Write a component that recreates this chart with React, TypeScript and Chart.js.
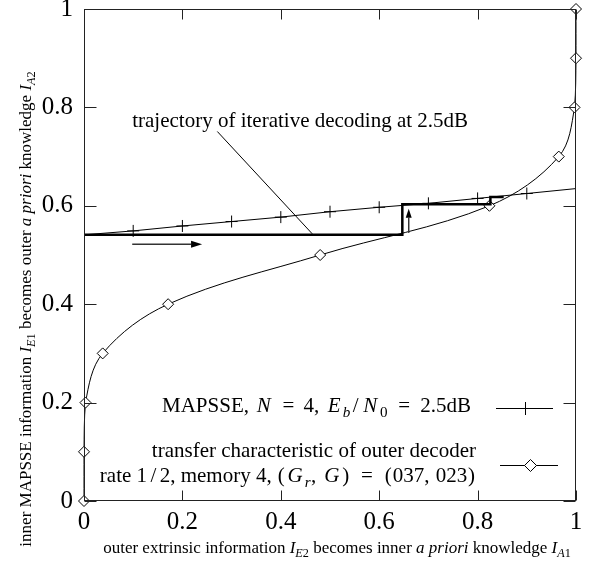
import React, { useEffect, useRef } from "react";
import { Chart, registerables } from "chart.js";

Chart.register(...registerables);

// ---------- data ----------
const TICK_VALUES = [0, 0.2, 0.4, 0.6, 0.8, 1];
const TICK_LABELS = ["0", "0.2", "0.4", "0.6", "0.8", "1"];

// MAPSSE transfer curve (inner decoder), N = 4, Eb/N0 = 2.5 dB
const MAPSSE_X = [0, 0.1, 0.2, 0.3, 0.4, 0.5, 0.6, 0.7, 0.8, 0.9, 1];
const MAPSSE_Y = [0.541, 0.549, 0.559, 0.568, 0.577, 0.588, 0.597, 0.605, 0.615, 0.625, 0.635];
const MAPSSE_MARKED = [false, true, true, true, true, true, true, true, true, true, false];

// outer decoder transfer characteristic (plotted inverted)
const OUTER_X = [0, 0, 0.003, 0.038, 0.171, 0.48, 0.824, 0.965, 0.997, 1, 1];
const OUTER_Y = [0, 0.1, 0.2, 0.3, 0.4, 0.5, 0.6, 0.7, 0.8, 0.9, 1];

// decoding trajectory at 2.5 dB
const TRAJ_X = [0, 0.647, 0.647, 0.826, 0.826, 0.853];
const TRAJ_Y = [0.541, 0.541, 0.603, 0.603, 0.618, 0.618];

// annotation pointer line
const POINTER_X = [0.271, 0.464];
const POINTER_Y = [0.751, 0.543];

// arrows
const ARROW_H_X = [0.098, 0.24];
const ARROW_H_Y = [0.522, 0.522];
const ARROW_V_X = [0.66, 0.66];
const ARROW_V_Y = [0.545, 0.594];

// annotation text anchor
const NOTE_X = 0.098;
const NOTE_Y = 0.76;
const NOTE_TEXT = "trajectory of iterative decoding at 2.5dB";

// ---------- styling ----------
const FONT = "'Liberation Serif', 'Times New Roman', serif";
const AXIS_COLOR = "#222";
const TEXT_SIZE = 21;
const TITLE_SIZE = 17;

// t: text, it: italic, sub: subscript, w: glyph box width in em (math spacing), l: left-align in box
type Seg = { t: string; it?: boolean; sub?: boolean; w?: number; l?: boolean };

const LEGEND1: Seg[] = [
  { t: "MAPSSE, " },
  { t: "N", it: true, w: 0.9 },
  { t: "=", w: 1.45 },
  { t: "4", w: 0.5 },
  { t: ",", w: 0.55, l: true },
  { t: "E", it: true, w: 0.8 },
  { t: "b", it: true, sub: true, w: 0.38 },
  { t: "/", w: 0.5 },
  { t: "N", it: true, w: 0.9 },
  { t: "0", sub: true, w: 0.38 },
  { t: "=", w: 1.55 },
  { t: "2.5dB", w: 2.65, l: true },
];
const LEGEND2A: Seg[] = [{ t: "transfer characteristic of outer decoder" }];
const LEGEND2B: Seg[] = [
  { t: "rate " },
  { t: "1", w: 0.5 },
  { t: "/", w: 0.6 },
  { t: "2", w: 0.5 },
  { t: ", memory " },
  { t: "4", w: 0.5 },
  { t: ", " },
  { t: "(", w: 0.42 },
  { t: "G", it: true, w: 0.9 },
  { t: "r", it: true, sub: true, w: 0.3 },
  { t: ",", w: 0.55, l: true },
  { t: "G", it: true, w: 0.9 },
  { t: ")", w: 0.42 },
  { t: "=", w: 1.6 },
  { t: "(", w: 0.42 },
  { t: "037", w: 1.5 },
  { t: ",", w: 0.55, l: true },
  { t: "023", w: 1.5 },
  { t: ")", w: 0.42 },
];
const X_TITLE: Seg[] = [
  { t: "outer extrinsic information " },
  { t: "I", it: true },
  { t: "E", it: true, sub: true },
  { t: "2", sub: true },
  { t: " becomes inner " },
  { t: "a priori", it: true },
  { t: " knowledge " },
  { t: "I", it: true },
  { t: "A", it: true, sub: true },
  { t: "1", sub: true },
];
const Y_TITLE: Seg[] = [
  { t: "inner MAPSSE information " },
  { t: "I", it: true },
  { t: "E", it: true, sub: true },
  { t: "1", sub: true },
  { t: " becomes outer " },
  { t: "a priori", it: true },
  { t: " knowledge " },
  { t: "I", it: true },
  { t: "A", it: true, sub: true },
  { t: "2", sub: true },
];

function segFont(s: Seg, size: number) {
  const sz = s.sub ? size * 0.72 : size;
  return `${s.it ? "italic " : ""}${sz}px ${FONT}`;
}
function segWidth(ctx: CanvasRenderingContext2D, s: Seg, size: number) {
  if (s.w !== undefined) return s.w * size;
  ctx.font = segFont(s, size);
  return ctx.measureText(s.t).width;
}
function measureRich(ctx: CanvasRenderingContext2D, segs: Seg[], size: number) {
  let w = 0;
  for (const s of segs) w += segWidth(ctx, s, size);
  return w;
}
function drawRich(
  ctx: CanvasRenderingContext2D,
  segs: Seg[],
  x: number,
  y: number,
  size: number,
  align: "left" | "right" | "center"
) {
  const w = measureRich(ctx, segs, size);
  let cx = align === "left" ? x : align === "right" ? x - w : x - w / 2;
  ctx.textBaseline = "alphabetic";
  for (const s of segs) {
    const bw = segWidth(ctx, s, size);
    ctx.font = segFont(s, size);
    const yy = y + (s.sub ? size * 0.25 : 0);
    if (s.w !== undefined && !s.l) {
      ctx.textAlign = "center";
      ctx.fillText(s.t, cx + bw / 2, yy);
    } else {
      ctx.textAlign = "left";
      ctx.fillText(s.t, cx, yy);
    }
    cx += bw;
  }
}

function drawArrow(
  ctx: CanvasRenderingContext2D,
  x0: number,
  y0: number,
  x1: number,
  y1: number,
  len: number,
  half: number
) {
  const ang = Math.atan2(y1 - y0, x1 - x0);
  const bx = x1 - Math.cos(ang) * len;
  const by = y1 - Math.sin(ang) * len;
  ctx.beginPath();
  ctx.moveTo(x0, y0);
  ctx.lineTo(bx, by);
  ctx.stroke();
  ctx.beginPath();
  ctx.moveTo(x1, y1);
  ctx.lineTo(bx - Math.sin(ang) * half, by + Math.cos(ang) * half);
  ctx.lineTo(bx + Math.sin(ang) * half, by - Math.cos(ang) * half);
  ctx.closePath();
  ctx.fill();
}

const overlay = {
  id: "overlay",
  afterDraw(chart: any) {
    const ctx: CanvasRenderingContext2D = chart.ctx;
    const xs = chart.scales.x;
    const ys = chart.scales.y;
    const a = chart.chartArea;
    ctx.save();
    ctx.strokeStyle = AXIS_COLOR;
    ctx.fillStyle = "#000";
    ctx.lineWidth = 1;
    const L = Math.round(a.left) + 0.5;
    const R = Math.round(a.right) - 0.5;
    const T = Math.round(a.top) + 0.5;
    const B = Math.round(a.bottom) - 0.5;
    ctx.strokeRect(L, T, R - L, B - T);
    // inward ticks on all four sides
    ctx.beginPath();
    for (const v of TICK_VALUES) {
      const px = Math.round(xs.getPixelForValue(v)) + 0.5;
      ctx.moveTo(px, B);
      ctx.lineTo(px, B - 10);
      ctx.moveTo(px, T);
      ctx.lineTo(px, T + 10);
      const py = Math.round(ys.getPixelForValue(v)) + 0.5;
      ctx.moveTo(L, py);
      ctx.lineTo(L + 12, py);
      ctx.moveTo(R, py);
      ctx.lineTo(R - 12, py);
    }
    ctx.stroke();

    // arrows
    ctx.strokeStyle = "#333";
    ctx.lineWidth = 1.5;
    drawArrow(
      ctx,
      xs.getPixelForValue(ARROW_H_X[0]),
      ys.getPixelForValue(ARROW_H_Y[0]),
      xs.getPixelForValue(ARROW_H_X[1]),
      ys.getPixelForValue(ARROW_H_Y[1]),
      11,
      3.5
    );
    drawArrow(
      ctx,
      xs.getPixelForValue(ARROW_V_X[0]),
      ys.getPixelForValue(ARROW_V_Y[0]),
      xs.getPixelForValue(ARROW_V_X[1]),
      ys.getPixelForValue(ARROW_V_Y[1]),
      9,
      3
    );

    // annotation text
    ctx.fillStyle = "#000";
    drawRich(
      ctx,
      [{ t: NOTE_TEXT }],
      xs.getPixelForValue(NOTE_X),
      ys.getPixelForValue(NOTE_Y),
      TEXT_SIZE,
      "left"
    );

    // legend
    drawRich(ctx, LEGEND1, 476, 412, TEXT_SIZE, "right");
    drawRich(ctx, LEGEND2A, 476, 457, TEXT_SIZE, "right");
    drawRich(ctx, LEGEND2B, 476, 482, TEXT_SIZE, "right");
    ctx.strokeStyle = "#000";
    ctx.lineWidth = 1;
    ctx.beginPath();
    ctx.moveTo(496, 408.5);
    ctx.lineTo(553, 408.5);
    ctx.moveTo(525.5, 402);
    ctx.lineTo(525.5, 415);
    ctx.moveTo(500, 465.5);
    ctx.lineTo(558, 465.5);
    ctx.stroke();
    ctx.beginPath();
    ctx.moveTo(524.5, 465.5);
    ctx.lineTo(530.5, 459.5);
    ctx.lineTo(536.5, 465.5);
    ctx.lineTo(530.5, 471.5);
    ctx.closePath();
    ctx.fillStyle = "#fff";
    ctx.fill();
    ctx.stroke();

    // axis titles
    ctx.fillStyle = "#000";
    drawRich(ctx, X_TITLE, 337, 553, TITLE_SIZE, "center");
    ctx.save();
    ctx.translate(31, 309);
    ctx.rotate(-Math.PI / 2);
    drawRich(ctx, Y_TITLE, 0, 0, TITLE_SIZE, "center");
    ctx.restore();
    ctx.restore();
  },
};

const pts = (xs: number[], ys: number[]) => xs.map((x, i) => ({ x, y: ys[i] }));

export default function App() {
  const ref = useRef<HTMLCanvasElement>(null);
  useEffect(() => {
    const canvas = ref.current!;
    const tickFont = { family: FONT, size: 25 };
    const chart = new Chart(canvas, {
      type: "scatter",
      data: {
        datasets: [
          {
            label: "trajectory",
            data: pts(TRAJ_X, TRAJ_Y),
            showLine: true,
            borderColor: "#000",
            borderWidth: 2.5,
            pointRadius: 0,
            tension: 0,
            clip: false,
          } as any,
          {
            label: "MAPSSE",
            data: pts(MAPSSE_X, MAPSSE_Y),
            showLine: true,
            borderColor: "#000",
            borderWidth: 1,
            pointStyle: "cross",
            pointRadius: MAPSSE_MARKED.map((m) => (m ? 6 : 0)),
            pointBorderWidth: 1,
            pointBorderColor: "#000",
            tension: 0,
            clip: false,
          },
          {
            label: "outer",
            data: pts(OUTER_X, OUTER_Y),
            showLine: true,
            borderColor: "#000",
            borderWidth: 1,
            pointStyle: "rectRot",
            pointRadius: 5.5,
            pointBorderWidth: 1,
            pointBorderColor: "#000",
            pointBackgroundColor: "#fff",
            tension: 0.35,
            clip: false,
          },
          {
            label: "pointer",
            data: pts(POINTER_X, POINTER_Y),
            showLine: true,
            borderColor: "#000",
            borderWidth: 1,
            pointRadius: 0,
            clip: false,
          },
        ],
      },
      options: {
        animation: false,
        responsive: false,
        devicePixelRatio: 1,
        layout: { padding: { top: 9, right: 14, bottom: 0, left: 0 } },
        plugins: { legend: { display: false }, tooltip: { enabled: false } },
        events: [],
        scales: {
          x: {
            type: "linear",
            min: 0,
            max: 1,
            grid: { display: false, drawTicks: false },
            border: { display: false },
            afterBuildTicks: (s: any) => {
              s.ticks = TICK_VALUES.map((v) => ({ value: v }));
            },
            afterFit: (s: any) => {
              s.height = 61;
              s.paddingLeft = 0;
              s.paddingRight = 0;
              s.paddingTop = 0;
              s.paddingBottom = 0;
            },
            ticks: {
              padding: 6,
              color: "#000",
              font: tickFont,
              maxRotation: 0,
              autoSkip: false,
              callback: (_v: any, i: number) => TICK_LABELS[i],
            },
          },
          y: {
            type: "linear",
            min: 0,
            max: 1,
            grid: { display: false, drawTicks: false },
            border: { display: false },
            afterBuildTicks: (s: any) => {
              s.ticks = TICK_VALUES.map((v) => ({ value: v }));
            },
            afterFit: (s: any) => {
              s.width = 84;
              s.paddingLeft = 0;
              s.paddingRight = 0;
              s.paddingTop = 0;
              s.paddingBottom = 0;
            },
            ticks: {
              padding: 11,
              color: "#000",
              font: tickFont,
              autoSkip: false,
              callback: (_v: any, i: number) => TICK_LABELS[i],
            },
          },
        },
      },
      plugins: [overlay],
    } as any);
    return () => chart.destroy();
  }, []);
  return (
    <div
      style={{
        position: "fixed",
        left: 0,
        top: 0,
        width: 590,
        height: 562,
        background: "#fff",
      }}
    >
      <canvas ref={ref} width={590} height={562} style={{ width: 590, height: 562, display: "block" }} />
    </div>
  );
}
